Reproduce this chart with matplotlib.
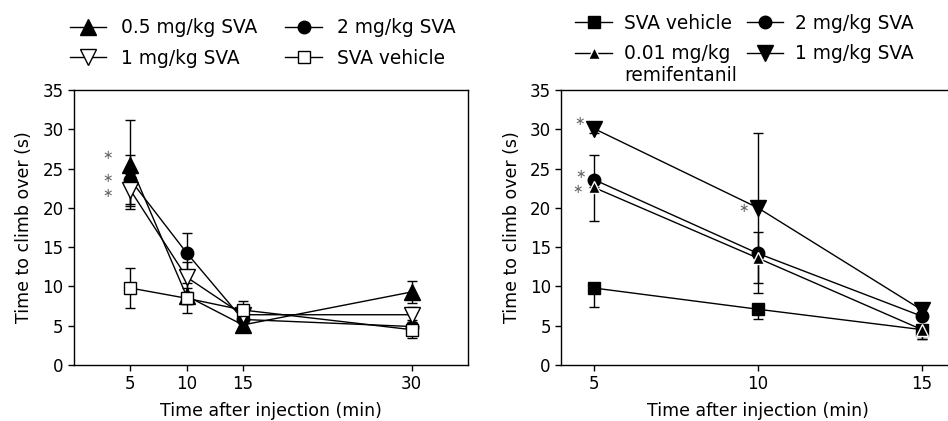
import matplotlib
matplotlib.use('Agg')
import matplotlib.pyplot as plt

plt.rcParams['font.family'] = ['DejaVu Sans']

# left panel
t_left = [5, 10, 15, 30]
sva05 = [25.5, 8.8, 5.1, 9.3]
sva05_err = [5.7, 1.0, 0.9, 1.4]
sva2 = [23.6, 14.3, 5.8, 4.9]
sva2_err = [3.1, 2.5, 1.0, 0.8]
sva1 = [22.3, 11.2, 6.4, 6.4]
sva1_err = [2.0, 1.9, 1.0, 1.0]
veh = [9.8, 8.5, 7.0, 4.5]
veh_err = [2.5, 1.9, 1.1, 1.0]

# right panel (one-sided bars where the reference shows only one cap)
t_right = [5, 10, 15]
r_veh = [9.8, 7.1, 4.5]
r_veh_err = [2.4, 1.3, 1.2]
r_sva2 = [23.6, 14.2, 6.2]
r_sva2_err = [3.1, 2.7, 1.0]
r_remi = [22.6, 13.6, 4.5]
r_remi_err = [4.3, 4.4, 1.2]
r_sva1 = [30.1, 20.0, 7.0]
r_sva1_err = [0.5, 9.6, 0.6]

y_ticks = [0, 5, 10, 15, 20, 25, 30, 35]

fig = plt.figure(figsize=(9.48, 4.21), dpi=100)
ax1 = fig.add_axes([0.078, 0.133, 0.4156, 0.653])
ax2 = fig.add_axes([0.592, 0.133, 0.4152, 0.653])

eb = dict(color='black', lw=1.0, elinewidth=1.0, capsize=3.5, capthick=1.0,
          mew=1.0)

c1 = ax1.errorbar(t_left, sva05, yerr=sva05_err, marker='^', ms=11, mfc='black',
                  mec='black', **eb)
c2 = ax1.errorbar(t_left, sva2, yerr=sva2_err, marker='o', ms=9, mfc='black',
                  mec='black', **eb)
c3 = ax1.errorbar(t_left, sva1, yerr=sva1_err, marker='v', ms=11, mfc='white',
                  mec='black', **eb)
c4 = ax1.errorbar(t_left, veh, yerr=veh_err, marker='s', ms=9, mfc='white',
                  mec='black', **eb)

d1 = ax2.errorbar(t_right, r_veh, yerr=[r_veh_err, [0] * 3], marker='s', ms=9,
                  mfc='black', mec='black', **eb)
d2 = ax2.errorbar(t_right, r_sva2, yerr=[[0] * 3, r_sva2_err], marker='o', ms=9,
                  mfc='black', mec='black', **eb)
d3 = ax2.errorbar(t_right, r_remi, yerr=[r_remi_err, [0] * 3], marker='^', ms=9,
                  mfc='black', mec='white', **eb)
d4 = ax2.errorbar(t_right, r_sva1, yerr=r_sva1_err, marker='v', ms=11,
                  mfc='black', mec='black', **eb)

for ax in (ax1, ax2):
    ax.set_ylim(0, 35)
    ax.set_yticks(y_ticks)
    ax.tick_params(direction='out', length=4, width=1, labelsize=12)
    ax.set_xlabel('Time after injection (min)', fontsize=12.5, labelpad=6)
    ax.set_ylabel('Time to climb over (s)', fontsize=12.5, labelpad=6.5)
    for s in ax.spines.values():
        s.set_linewidth(1.0)

ax1.set_xlim(0, 35)
ax1.set_xticks([5, 10, 15, 30])
ax2.set_xlim(4, 16)
ax2.set_xticks([5, 10, 15])

star = dict(color='#666666', fontsize=9, ha='center', va='center')
for yv in (26.7, 23.8, 21.8):
    ax1.text(3.0, yv, '\u2217', **star)
ax2.text(4.55, 31.0, '\u2217', **star)
ax2.text(4.58, 24.3, '\u2217', **star)
ax2.text(4.5, 22.3, '\u2217', **star)
ax2.text(9.55, 19.9, '\u2217', **star)

leg_kw = dict(ncol=2, loc='upper left', frameon=False, fontsize=13.4,
              borderpad=0, borderaxespad=0, handlelength=1.95,
              labelspacing=0.62)

fig.legend([c1[0], c3[0], c2[0], c4[0]],
           ['0.5 mg/kg SVA', '1 mg/kg SVA', '2 mg/kg SVA', 'SVA vehicle'],
           bbox_to_anchor=(0.074, 0.957), handletextpad=0.8,
           columnspacing=1.5, **leg_kw)

leg2 = fig.legend([d1[0], d3[0], d2[0], d4[0]],
                  ['SVA vehicle', '0.01 mg/kg', '2 mg/kg SVA', '1 mg/kg SVA'],
                  bbox_to_anchor=(0.607, 0.967), handletextpad=0.65,
                  columnspacing=0.8, **leg_kw)

# second line of the remifentanil entry, under "0.01 mg/kg"
fig.canvas.draw()
r = leg2.get_texts()[1].get_window_extent()
fig.text(r.x0 / fig.bbox.width, ((r.y0 + r.y1) / 2 - 22) / fig.bbox.height,
         'remifentanil', fontsize=13.4, ha='left', va='center')

fig.savefig('out.png', dpi=100)
